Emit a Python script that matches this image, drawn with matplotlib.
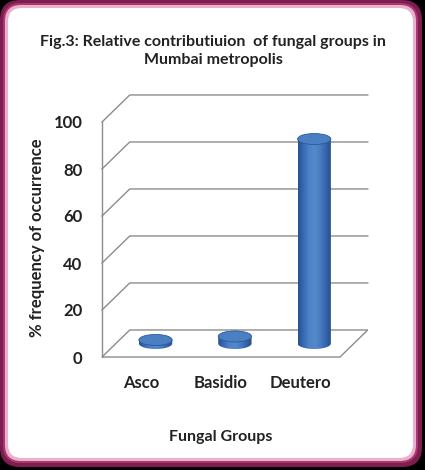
import numpy as np
import matplotlib
matplotlib.use("Agg")
import matplotlib.pyplot as plt
from matplotlib.patches import FancyBboxPatch, Polygon, Ellipse, PathPatch
from matplotlib.path import Path

groups = ["Asco", "Basidio", "Deutero"]
freq = [1.5, 3, 87]
yticks = [0, 20, 40, 60, 80, 100]

title = "Fig.3: Relative contributiuion  of fungal groups in\nMumbai metropolis"
xlabel = "Fungal Groups"
ylabel = "% frequency of occurrence"

plt.rcParams['font.family'] = ['Lato', 'DejaVu Sans']

W, H = 425, 470
fig = plt.figure(figsize=(W / 100, H / 100), dpi=100)
fig.patch.set_facecolor("black")

# frame: dark magenta rim, pink band, white panel
bg = fig.add_axes([0, 0, 1, 1])
bg.set_xlim(0, W)
bg.set_ylim(H, 0)
bg.axis("off")
bg.add_patch(FancyBboxPatch((0, 0), W - 3, H - 3, boxstyle="round,pad=0,rounding_size=20",
                            fc="#7e1d50", ec="none"))
bg.add_patch(FancyBboxPatch((3, 3), W - 10, H - 10, boxstyle="round,pad=0,rounding_size=18",
                            fc="#a8386e", ec="none"))
bg.add_patch(FancyBboxPatch((5, 5), W - 14, H - 14, boxstyle="round,pad=0,rounding_size=16",
                            fc="#eab0cc", ec="none"))
bg.add_patch(FancyBboxPatch((8, 8), W - 20, H - 20, boxstyle="round,pad=0,rounding_size=14",
                            fc="white", ec="none"))
bg.text(213, 51, title, ha="center", va="center", fontsize=11.5, fontweight="bold",
        color="#222222", linespacing=1.45)
bg.text(221, 437, xlabel, ha="center", va="center", fontsize=11.5, fontweight="bold", color="#222222")
bg.text(37, 238, ylabel, ha="center", va="center", rotation=90, rotation_mode="anchor",
        fontsize=12, fontweight="bold", color="#222222")

# plot area: front-left corner (0,0) at px (102,357), (3,100) at px (340,122)
ax = fig.add_axes([102 / W, (H - 357) / H, 238 / W, 235 / H])
ax.set_xlim(0, 3)
ax.set_ylim(0, 100)
ax.patch.set_alpha(0)
for s in ax.spines.values():
    s.set_visible(False)

dx, dy = 0.35, 11.5  # depth offset
grid_c = "#8c8c8c"

# floor
ax.add_patch(Polygon([(0, 0), (3, 0), (3 + dx, dy), (dx, dy)], closed=True,
                     fc="white", ec=grid_c, lw=1, clip_on=False, zorder=1))
# gridlines on side and back walls
for v in yticks[1:]:
    ax.plot([0, dx, 3 + dx], [v, v + dy, v + dy], color=grid_c, lw=1, clip_on=False, zorder=1)
ax.plot([0, 0], [0, 100], color=grid_c, lw=1, clip_on=False, zorder=1)

ax.set_yticks(yticks)
ax.set_xticks([0.5, 1.5, 2.5])
ax.set_xticklabels(groups)
ax.tick_params(length=0, labelsize=12, labelcolor="#222222")
ax.tick_params(axis="y", pad=14)
ax.tick_params(axis="x", pad=13)
for lab in ax.get_xticklabels() + ax.get_yticklabels():
    lab.set_fontweight("bold")

# cylinders
w = 0.42
eh = 4.7
grad = np.array([[0.15, 0.32, 0.56], [0.22, 0.42, 0.70], [0.30, 0.51, 0.78],
                 [0.33, 0.54, 0.80], [0.28, 0.48, 0.75], [0.20, 0.39, 0.66],
                 [0.14, 0.30, 0.53]])
xs = np.linspace(0, 1, 200)
img = np.stack([np.interp(xs, np.linspace(0, 1, len(grad)), grad[:, k]) for k in range(3)], axis=-1)[None]

for i, v in enumerate(freq):
    xc = i + 0.5 + dx / 2
    yb = dy / 2
    yt = yb + v
    t = np.linspace(np.pi, 2 * np.pi, 60)
    bottom = np.column_stack([xc + w / 2 * np.cos(t), yb + eh / 2 * np.sin(t)])
    verts = np.vstack([[xc - w / 2, yt], bottom, [xc + w / 2, yt], [xc - w / 2, yt]])
    body = PathPatch(Path(verts), fc="none", ec="none", clip_on=False)
    ax.add_patch(body)
    im = ax.imshow(img, extent=[xc - w / 2, xc + w / 2, yb - eh, yt], aspect="auto",
                   zorder=3, interpolation="bilinear")
    im.set_clip_path(body)
    ax.add_patch(Ellipse((xc, yt), w, eh, fc="#4a7fc4", ec="#2d5a96", lw=0.6,
                         zorder=4, clip_on=False))

ax.set_xlim(0, 3)
ax.set_ylim(0, 100)

fig.savefig("out.png", dpi=100, facecolor=fig.get_facecolor())
